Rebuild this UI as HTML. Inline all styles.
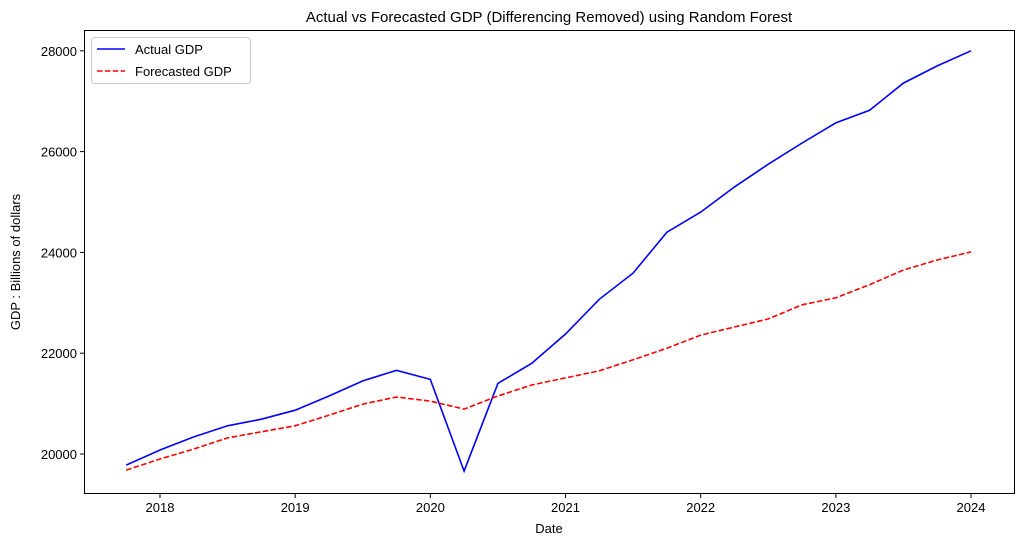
<!DOCTYPE html>
<html><head><meta charset="utf-8"><style>
body{margin:0;background:#fff;font-family:"Liberation Sans","DejaVu Sans",sans-serif}
svg text{font-family:"Liberation Sans","DejaVu Sans",sans-serif;fill:#000}
</style></head><body>
<svg id="chart" width="1023" height="545" xmlns="http://www.w3.org/2000/svg">
<text x="549" y="22" font-size="15" text-anchor="middle">Actual vs Forecasted GDP (Differencing Removed) using Random Forest</text>
<g id="ticks"></g>
<g id="series"></g>
<rect x="84.5" y="30.5" width="930" height="463" fill="none" stroke="#000" stroke-width="1"/>
<text x="549" y="533" font-size="13" text-anchor="middle">Date</text>
<text transform="translate(20,262) rotate(-90)" font-size="13" text-anchor="middle">GDP : Billions of dollars</text>
<g>
<rect x="91.5" y="37.5" width="159" height="46" rx="3" fill="#fff" stroke="#ccc"/>
<line x1="97" y1="49" x2="125" y2="49" stroke="blue" stroke-width="1.5"/>
<text x="135" y="54" font-size="13">Actual GDP</text>
<line x1="97" y1="71" x2="125" y2="71" stroke="red" stroke-width="1.5" stroke-dasharray="5.5,2.4"/>
<text x="135" y="76" font-size="13">Forecasted GDP</text>
</g>
</svg>
<script>
const dates=[2017.75,2018,2018.25,2018.5,2018.75,2019,2019.25,2019.5,2019.75,2020,2020.25,2020.5,2020.75,2021,2021.25,2021.5,2021.75,2022,2022.25,2022.5,2022.75,2023,2023.25,2023.5,2023.75,2024];
const actualGDP=[19780,20080,20340,20560,20690,20870,21150,21450,21660,21480,19660,21400,21800,22380,23070,23590,24400,24800,25300,25750,26170,26570,26820,27360,27700,28000];
const forecastGDP=[19680,19900,20100,20320,20440,20560,20770,20990,21130,21050,20890,21150,21370,21510,21650,21870,22100,22360,22520,22680,22960,23100,23360,23650,23850,24010];
const xTicks=[2018,2019,2020,2021,2022,2023,2024];
const yTicks=[20000,22000,24000,26000,28000];
const NS="http://www.w3.org/2000/svg";
const x=v=>160+(v-2018)*135.17;
const y=v=>454-(v-20000)*0.0504;
const tg=document.getElementById('ticks');
function mk(t,a,p){const e=document.createElementNS(NS,t);for(const k in a)e.setAttribute(k,a[k]);p.appendChild(e);return e;}
xTicks.forEach(t=>{
 const l=mk('line',{x1:x(t),x2:x(t),y1:494,y2:498,stroke:'#000'},tg);
 
 
 const tx=mk('text',{x:x(t),y:512,'font-size':13,'text-anchor':'middle'},tg);tx.textContent=t;
 
 
});
yTicks.forEach(t=>{
 const l=mk('line',{x1:80,x2:84,y1:y(t),y2:y(t),stroke:'#000'},tg);
 
 
 const tx=mk('text',{x:77,y:y(t)+5,'font-size':13,'text-anchor':'end'},tg);tx.textContent=t;
 
 
});
const sg=document.getElementById('series');
const pts=arr=>arr.map((v,i)=>x(dates[i]).toFixed(1)+','+y(v).toFixed(1)).join(' ');
const a=mk('polyline',{points:pts(actualGDP),fill:'none',stroke:'blue','stroke-width':1.6},sg);


const f=mk('polyline',{points:pts(forecastGDP),fill:'none',stroke:'red','stroke-width':1.6,'stroke-dasharray':'5.5,2.4'},sg);


</script>
</body></html>
